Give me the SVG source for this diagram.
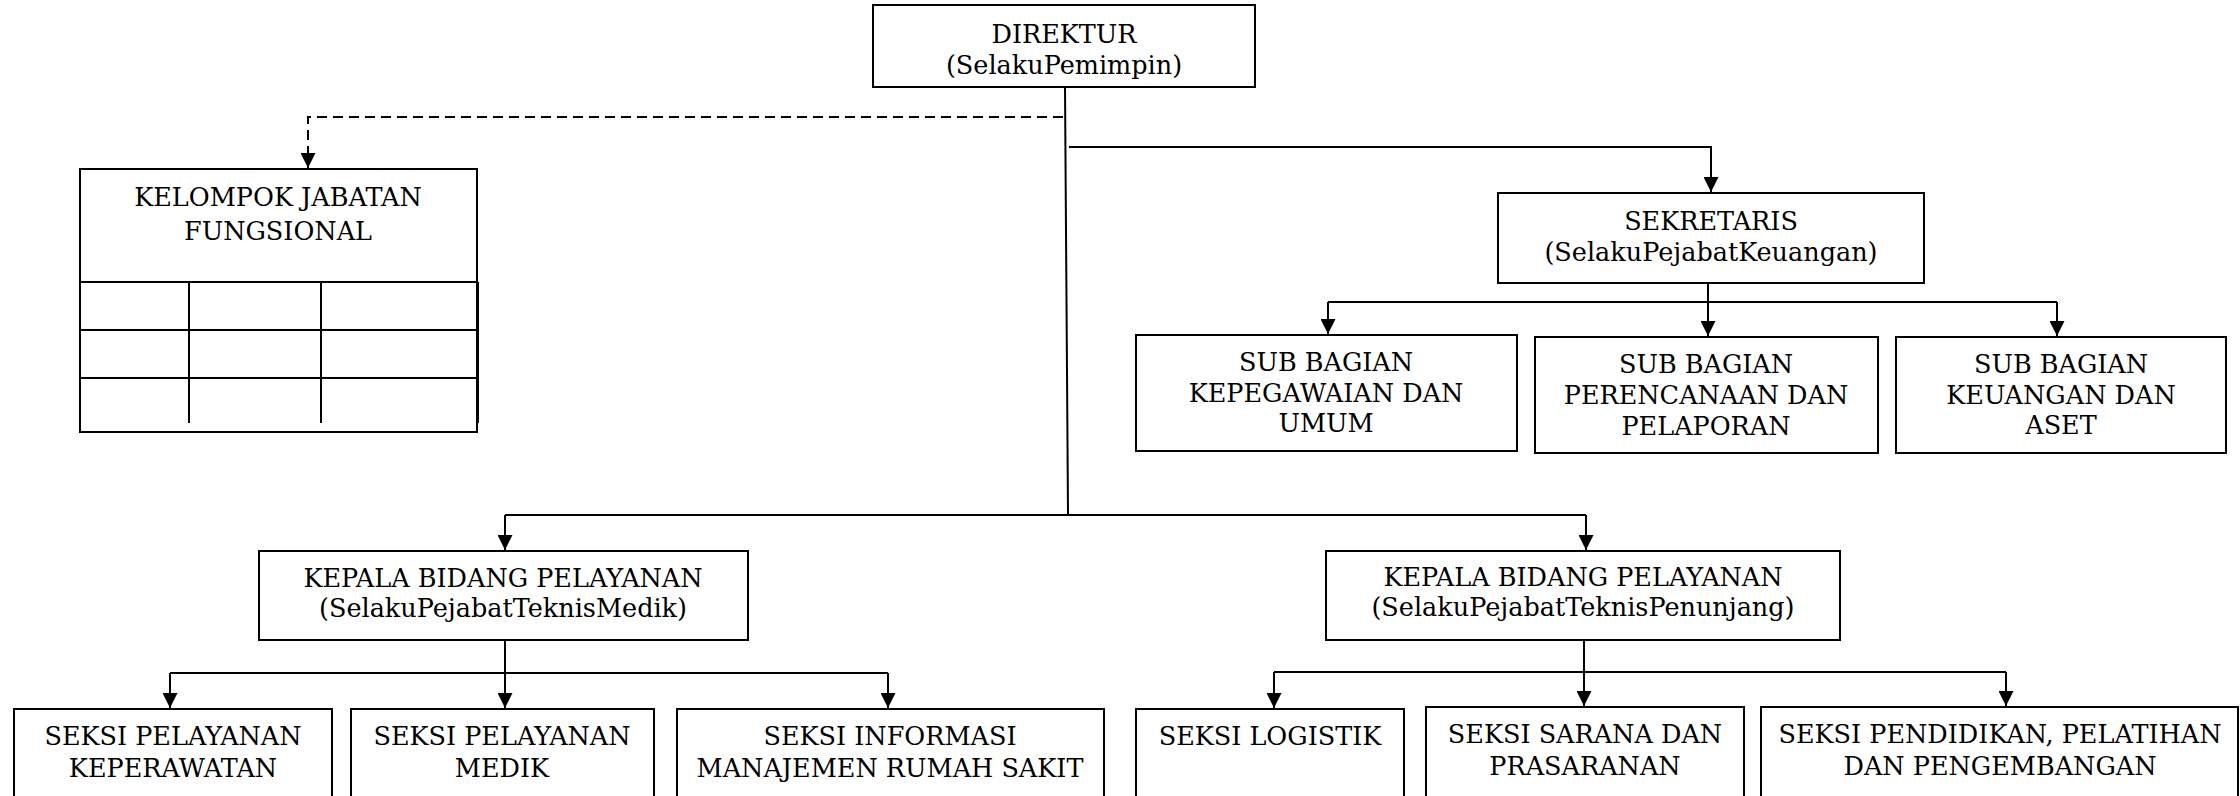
<svg xmlns="http://www.w3.org/2000/svg" width="2240" height="796" viewBox="0 0 2240 796">
<style>
.box{fill:#fff;stroke:#000;stroke-width:2}
.ln{fill:none;stroke:#000;stroke-width:2}
.dash{fill:none;stroke:#000;stroke-width:2;stroke-dasharray:10,6}
text{font-family:"DejaVu Serif","Liberation Serif",serif;font-size:25.5px;fill:#000;text-anchor:middle}
</style>
<defs>
<marker id="arr" markerUnits="userSpaceOnUse" markerWidth="15" markerHeight="15" refX="15" refY="7.5" orient="auto">
<path d="M0,0 L15,7.5 L0,15 z" fill="#000"/>
</marker>
</defs>
<rect width="2240" height="796" fill="#fff"/>
<g id="connectors">
<path class="ln" d="M1065,87 L1068,515"/>
<path class="dash" d="M1063,117 L308,117 L308,155"/>
<path class="ln" d="M308,155 L308,168" marker-end="url(#arr)"/>
<path class="ln" d="M1069,147 L1711,147 L1711,192" marker-end="url(#arr)"/>
<path class="ln" d="M505,515 L1586,515"/>
<path class="ln" d="M505,515 L505,550" marker-end="url(#arr)"/>
<path class="ln" d="M1586,515 L1586,550" marker-end="url(#arr)"/>
<path class="ln" d="M1708,283 L1708,336" marker-end="url(#arr)"/>
<path class="ln" d="M1328,302 L2057,302"/>
<path class="ln" d="M1328,302 L1328,334" marker-end="url(#arr)"/>
<path class="ln" d="M2057,302 L2057,336" marker-end="url(#arr)"/>
<path class="ln" d="M505,640 L505,708" marker-end="url(#arr)"/>
<path class="ln" d="M170,673 L888,673"/>
<path class="ln" d="M170,673 L170,708" marker-end="url(#arr)"/>
<path class="ln" d="M888,673 L888,708" marker-end="url(#arr)"/>
<path class="ln" d="M1584,640 L1584,706" marker-end="url(#arr)"/>
<path class="ln" d="M1274,672 L2006,672"/>
<path class="ln" d="M1274,672 L1274,708" marker-end="url(#arr)"/>
<path class="ln" d="M2006,672 L2006,706" marker-end="url(#arr)"/>
</g>
<g id="direktur">
<rect class="box" x="873" y="5" width="382" height="82"/>
<text x="1064" y="43">DIREKTUR</text>
<text x="1064" y="74">(SelakuPemimpin)</text>
</g>
<g id="kelompok">
<rect class="box" x="80" y="169" width="397" height="263"/>
<text x="278" y="206">KELOMPOK JABATAN</text>
<text x="278" y="240">FUNGSIONAL</text>
<path class="ln" d="M80,282 L478,282 M80,330 L477,330 M80,378 L477,378 M189,282 L189,423 M321,282 L321,423 M478,282 L478,423"/>
</g>
<g id="sekretaris">
<rect class="box" x="1498" y="193" width="426" height="90"/>
<text x="1711" y="230">SEKRETARIS</text>
<text x="1711" y="261">(SelakuPejabatKeuangan)</text>
</g>
<g id="sub-kepegawaian">
<rect class="box" x="1136" y="335" width="381" height="116"/>
<text x="1326" y="371">SUB BAGIAN</text>
<text x="1326" y="402">KEPEGAWAIAN DAN</text>
<text x="1326" y="432">UMUM</text>
</g>
<g id="sub-perencanaan">
<rect class="box" x="1535" y="337" width="343" height="116"/>
<text x="1706" y="373">SUB BAGIAN</text>
<text x="1706" y="404">PERENCANAAN DAN</text>
<text x="1706" y="435">PELAPORAN</text>
</g>
<g id="sub-keuangan">
<rect class="box" x="1896" y="337" width="330" height="116"/>
<text x="2061" y="373">SUB BAGIAN</text>
<text x="2061" y="404">KEUANGAN DAN</text>
<text x="2061" y="434">ASET</text>
</g>
<g id="kabid-medik">
<rect class="box" x="259" y="551" width="489" height="89"/>
<text x="503" y="587">KEPALA BIDANG PELAYANAN</text>
<text x="503" y="617">(SelakuPejabatTeknisMedik)</text>
</g>
<g id="kabid-penunjang">
<rect class="box" x="1326" y="551" width="514" height="89"/>
<text x="1583" y="586">KEPALA BIDANG PELAYANAN</text>
<text x="1583" y="616">(SelakuPejabatTeknisPenunjang)</text>
</g>
<g id="seksi-keperawatan">
<rect class="box" x="14" y="709" width="318" height="110"/>
<text x="173" y="745">SEKSI PELAYANAN</text>
<text x="173" y="777">KEPERAWATAN</text>
</g>
<g id="seksi-medik">
<rect class="box" x="351" y="709" width="303" height="110"/>
<text x="502" y="745">SEKSI PELAYANAN</text>
<text x="502" y="777">MEDIK</text>
</g>
<g id="seksi-informasi">
<rect class="box" x="677" y="709" width="427" height="110"/>
<text x="890" y="745">SEKSI INFORMASI</text>
<text x="890" y="777">MANAJEMEN RUMAH SAKIT</text>
</g>
<g id="seksi-logistik">
<rect class="box" x="1136" y="709" width="268" height="110"/>
<text x="1270" y="745">SEKSI LOGISTIK</text>
</g>
<g id="seksi-sarana">
<rect class="box" x="1426" y="707" width="318" height="110"/>
<text x="1585" y="743">SEKSI SARANA DAN</text>
<text x="1585" y="775">PRASARANAN</text>
</g>
<g id="seksi-pendidikan">
<rect class="box" x="1761" y="707" width="477" height="110"/>
<text x="2000" y="743">SEKSI PENDIDIKAN, PELATIHAN</text>
<text x="2000" y="775">DAN PENGEMBANGAN</text>
</g>
</svg>
